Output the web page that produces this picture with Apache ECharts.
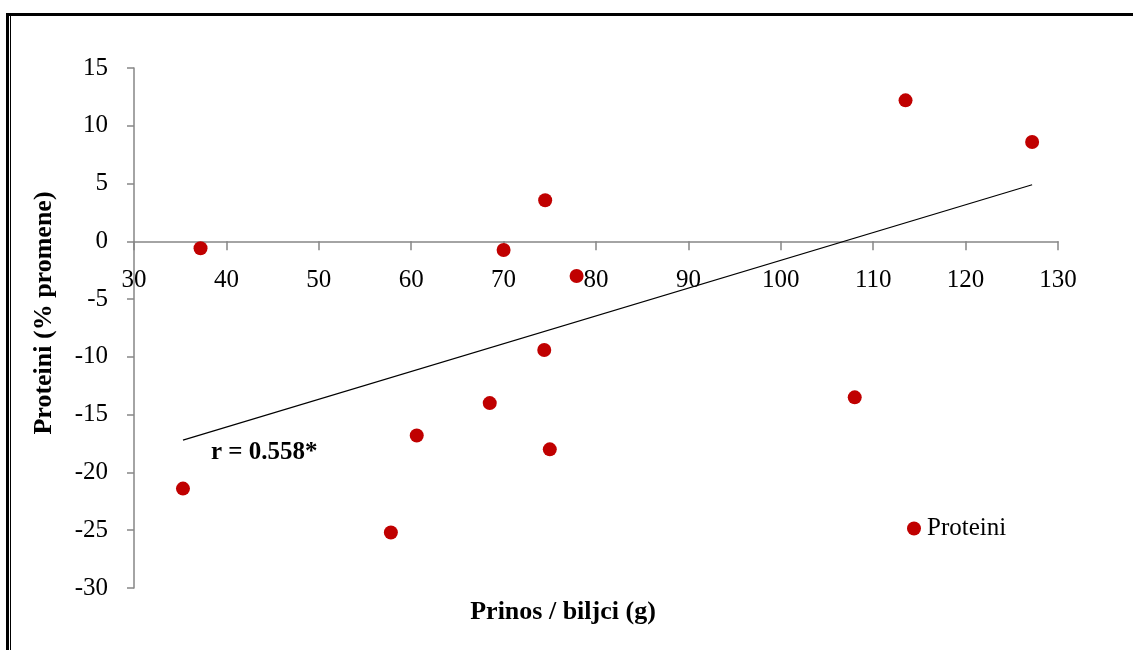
<!DOCTYPE html>
<html>
<head>
<meta charset="utf-8">
<script src="https://cdn.jsdelivr.net/npm/echarts@6/dist/echarts.min.js"></script>
<style>
html,body{margin:0;padding:0;background:#fff;}
#chart{width:1133px;height:650px;}
</style>
</head>
<body>
<div id="chart"></div>
<script>
// Data
const seriesName = 'Proteini';
const xValues = [37.2, 35.3, 57.8, 60.6, 68.5, 70.0, 74.5, 74.4, 75.0, 77.9, 108.0, 113.5, 127.2];
const yValues = [-0.6, -21.4, -25.2, -16.8, -14.0, -0.75, 3.55, -9.4, -18.0, -3.0, -13.5, 12.2, 8.6];
const trendX = [35.3, 127.2];
const trendY = [-17.2, 4.9];
const xTicks = [30, 40, 50, 60, 70, 80, 90, 100, 110, 120, 130];
const yTicks = [-30, -25, -20, -15, -10, -5, 0, 5, 10, 15];
const xTitle = 'Prinos / biljci (g)';
const yTitle = 'Proteini (% promene)';
const rLabel = 'r = 0.558*';

const points = xValues.map((x, i) => [x, yValues[i]]);
const trend = trendX.map((x, i) => [x, trendY[i]]);

const font = '"Liberation Serif", "Times New Roman", serif';
const axisGray = '#868686';

const gridTop = 68, gridBottom = 62, H = 650;
const yMin = yTicks[0], yMax = yTicks[yTicks.length - 1];
const plotH = H - gridTop - gridBottom;
// place the x axis line where y = 0 (axis crossing as in the reference)
const zeroOffset = -plotH * (0 - yMin) / (yMax - yMin);

const chart = echarts.init(document.getElementById('chart'));
chart.setOption({
  animation: false,
  backgroundColor: '#ffffff',
  grid: { left: 134, right: 75, top: gridTop, bottom: gridBottom, containLabel: false },
  xAxis: {
    type: 'value',
    min: xTicks[0], max: xTicks[xTicks.length - 1], interval: 10,
    offset: zeroOffset,
    axisLine: { onZero: false, lineStyle: { color: axisGray, width: 1.5 } },
    axisTick: { show: true, length: 9, lineStyle: { color: axisGray, width: 1.5 } },
    axisLabel: { color: '#000', fontFamily: font, fontSize: 25, margin: 27 },
    splitLine: { show: false }
  },
  yAxis: {
    type: 'value',
    min: yMin, max: yMax, interval: 5,
    axisLine: { show: true, onZero: false, lineStyle: { color: axisGray, width: 1.5 } },
    axisTick: { show: true, length: 7, lineStyle: { color: axisGray, width: 1.5 } },
    axisLabel: { color: '#000', fontFamily: font, fontSize: 25, margin: 26 },
    splitLine: { show: false }
  },
  legend: {
    data: [{ name: seriesName, icon: 'circle' }],
    left: 902, top: 511,
    itemWidth: 14, itemHeight: 14, itemGap: 4,
    textStyle: { color: '#000', fontFamily: font, fontSize: 25, padding: [0, 0, 0, 1] }
  },
  series: [
    {
      name: seriesName,
      type: 'scatter',
      data: points,
      symbol: 'circle',
      symbolSize: 14,
      itemStyle: { color: '#C00000', opacity: 1 },
      z: 3
    },
    {
      name: 'trend',
      type: 'line',
      data: trend,
      showSymbol: false,
      symbol: 'none',
      silent: true,
      lineStyle: { color: '#000', width: 1.2 },
      z: 2
    }
  ],
  graphic: [
    { type: 'rect', shape: { x: 6, y: 13, width: 1127, height: 3 }, style: { fill: '#000' }, silent: true },
    { type: 'rect', shape: { x: 6, y: 13, width: 3, height: 637 }, style: { fill: '#000' }, silent: true },
    { type: 'rect', shape: { x: 10, y: 16, width: 1, height: 634 }, style: { fill: '#000' }, silent: true },
    { type: 'text', x: 563, y: 612, style: { text: xTitle, font: 'bold 26px ' + font, fill: '#000', textAlign: 'center', textVerticalAlign: 'middle' }, silent: true },
    { type: 'text', x: 44, y: 313, rotation: Math.PI / 2, style: { text: yTitle, font: 'bold 26px ' + font, fill: '#000', textAlign: 'center', textVerticalAlign: 'middle' }, silent: true },
    { type: 'text', x: 211, y: 453, style: { text: rLabel, font: 'bold 25px ' + font, fill: '#000', textAlign: 'left', textVerticalAlign: 'middle' }, silent: true }
  ]
});
</script>
</body>
</html>
